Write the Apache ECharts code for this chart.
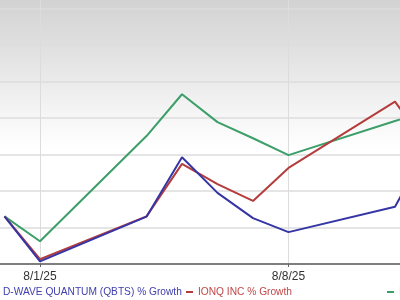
<!DOCTYPE html>
<html>
<head>
<meta charset="utf-8">
<script src="https://cdn.jsdelivr.net/npm/echarts@6/dist/echarts.min.js"></script>
<style>html,body{margin:0;padding:0;background:#fff}#c{width:400px;height:300px}</style>
</head>
<body>
<div id="c"></div>
<script>
// Data (% growth, start = 0)
var dates = ['7/31/25','8/1/25','8/4/25','8/5/25','8/6/25','8/7/25','8/8/25','8/11/25','8/12/25'];
var qbts  = [0, -12.3, -0.1, 16.1, 6.4, -0.5, -4.3, 2.6, 20.5];
var ionq  = [0, -11.7, 0.0, 14.3, 8.8, 4.2, 13.2, 31.3, 18.0];
var third = [0, -6.8, 21.9, 33.3, 25.7, 21.3, 16.7, 26.0, 29.0];
var seriesNames = ['D-WAVE QUANTUM (QBTS) % Growth', 'IONQ INC % Growth', 'Industry % Growth'];
var tickDates = ['8/1/25', '8/8/25'];

function toDay(s) {
  var p = s.split('/');
  var d = Date.UTC(2000 + +p[2], +p[0] - 1, +p[1]);
  var base = Date.UTC(2025, 7, 1);
  return Math.round((d - base) / 86400000);
}
function dayLabel(v) {
  var d = new Date(Date.UTC(2025, 7, 1) + v * 86400000);
  return (d.getUTCMonth() + 1) + '/' + d.getUTCDate() + '/' + String(d.getUTCFullYear()).slice(2);
}
function pts(arr) { return dates.map(function (d, i) { return [toDay(d), arr[i]]; }); }

var colors = ['#3535a6', '#b43c3c', '#3c9e68'];
var textColors = ['#4040b0', '#c04848', '#3c9e68'];
var chart = echarts.init(document.getElementById('c'), null, {renderer: 'canvas'});
var firstTick = toDay(tickDates[0]);
var legendLefts = [-9, 186, 387];

chart.setOption({
  animation: false,
  backgroundColor: {
    type: 'linear', x: 0, y: 0, x2: 0, y2: 1,
    colorStops: [
      {offset: 0, color: '#d2d2d2'},
      {offset: 0.2, color: '#e4e4e4'},
      {offset: 0.4, color: '#f7f7f7'},
      {offset: 0.5, color: '#ffffff'},
      {offset: 1, color: '#ffffff'}
    ]
  },
  textStyle: {fontFamily: 'Liberation Sans, Arial, sans-serif'},
  grid: {left: -208.5, right: -137, top: 0, bottom: 36, containLabel: false, outerBoundsMode: 'none'},
  legend: seriesNames.map(function (n, i) {
    return {
      data: [n], left: legendLefts[i], top: 287,
      itemWidth: 7, itemHeight: 2, itemGap: 0,
      icon: 'rect',
      textStyle: {color: textColors[i], fontSize: 10.2, fontFamily: 'Liberation Sans, Arial, sans-serif'},
      padding: 0
    };
  }),
  xAxis: {
    type: 'value',
    min: firstTick - 7, max: firstTick + 14, interval: 7,
    axisLine: {show: true, lineStyle: {color: '#555', width: 1.5}},
    axisTick: {show: true, length: 3, lineStyle: {color: '#666'}},
    axisLabel: {color: '#333', fontSize: 12, margin: 7, formatter: dayLabel},
    splitLine: {show: true, lineStyle: {color: '#dcdcdc', width: 1}}
  },
  yAxis: [
    {
      type: 'value', min: 0, max: 7.233, interval: 1,
      axisLine: {show: false}, axisTick: {show: false}, axisLabel: {show: false},
      splitLine: {show: true, showMinLine: false, showMaxLine: false, lineStyle: {color: '#dddddd', width: 1.5}}
    },
    {
      type: 'value', min: -13, max: 59,
      axisLine: {show: false}, axisTick: {show: false}, axisLabel: {show: false},
      splitLine: {show: false}
    }
  ],
  series: [
    {name: seriesNames[0], type: 'line', yAxisIndex: 1, data: pts(qbts), showSymbol: false, lineStyle: {width: 2, color: colors[0]}, itemStyle: {color: colors[0]}, z: 5},
    {name: seriesNames[1], type: 'line', yAxisIndex: 1, data: pts(ionq), showSymbol: false, lineStyle: {width: 2, color: colors[1]}, itemStyle: {color: colors[1]}, z: 4},
    {name: seriesNames[2], type: 'line', yAxisIndex: 1, data: pts(third), showSymbol: false, lineStyle: {width: 2, color: colors[2]}, itemStyle: {color: colors[2]}, z: 3}
  ]
});
</script>
</body>
</html>
